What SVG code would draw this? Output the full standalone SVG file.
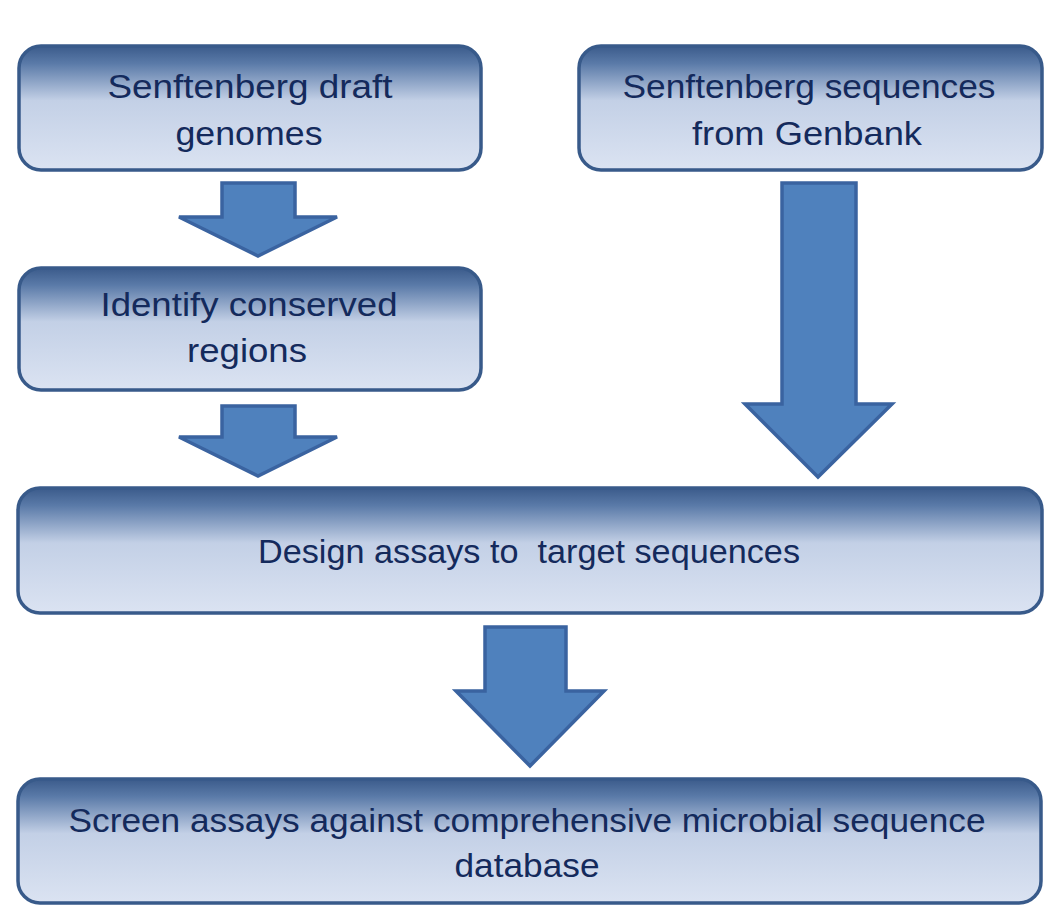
<svg xmlns="http://www.w3.org/2000/svg" width="1058" height="911" viewBox="0 0 1058 911">
<defs>
<linearGradient id="g" x1="0" y1="0" x2="0" y2="1">
<stop offset="0" stop-color="#3b5b8b"/>
<stop offset="0.14" stop-color="#5a7aa8"/>
<stop offset="0.44" stop-color="#c3d0e6"/>
<stop offset="1" stop-color="#dbe3f2"/>
</linearGradient>
<style>
.box{fill:url(#g);stroke:#385a8a;stroke-width:3.5}
.arr{fill:#4f81bd;stroke:#3a63a0;stroke-width:3.5;stroke-linejoin:miter}
text{font-family:"Liberation Sans",Arial,sans-serif;font-size:34px;fill:#142a5c;text-anchor:middle}
</style>
</defs>
<rect width="1058" height="911" fill="#ffffff"/>
<g id="n1">
<rect class="box" x="19" y="46" width="462" height="124" rx="22"/>
<text x="250" y="98" textLength="285" lengthAdjust="spacingAndGlyphs">Senftenberg draft</text>
<text x="249" y="145" textLength="147" lengthAdjust="spacingAndGlyphs">genomes</text>
</g>
<g id="n2">
<rect class="box" x="579" y="46" width="463" height="124" rx="22"/>
<text x="809" y="98" textLength="373" lengthAdjust="spacingAndGlyphs">Senftenberg sequences</text>
<text x="807" y="145" textLength="230" lengthAdjust="spacingAndGlyphs">from Genbank</text>
</g>
<g id="n3">
<rect class="box" x="19" y="268" width="462" height="122" rx="22"/>
<text x="249" y="316" textLength="297" lengthAdjust="spacingAndGlyphs">Identify conserved</text>
<text x="247" y="362" textLength="120" lengthAdjust="spacingAndGlyphs">regions</text>
</g>
<g id="n4">
<rect class="box" x="18" y="488" width="1024" height="125" rx="22"/>
<text x="529" y="563" textLength="542" lengthAdjust="spacingAndGlyphs" xml:space="preserve">Design assays to  target sequences</text>
</g>
<g id="n5">
<rect class="box" x="18" y="779" width="1023" height="124" rx="22"/>
<text x="527" y="832" textLength="917" lengthAdjust="spacingAndGlyphs">Screen assays against comprehensive microbial sequence</text>
<text x="527" y="877" textLength="145" lengthAdjust="spacingAndGlyphs">database</text>
</g>
<g id="connectors">
<polygon class="arr" points="222,183 295,183 295,217 337,217 258,256 179,217 222,217"/>
<polygon class="arr" points="222,406 295,406 295,437 337,437 258,476 179,437 222,437"/>
<polygon class="arr" points="782,183 856,183 856,404 892,404 818,477 745,404 782,404"/>
<polygon class="arr" points="485,627 566,627 566,691 604,691 530,766 456,691 485,691"/>
</g>
</svg>
